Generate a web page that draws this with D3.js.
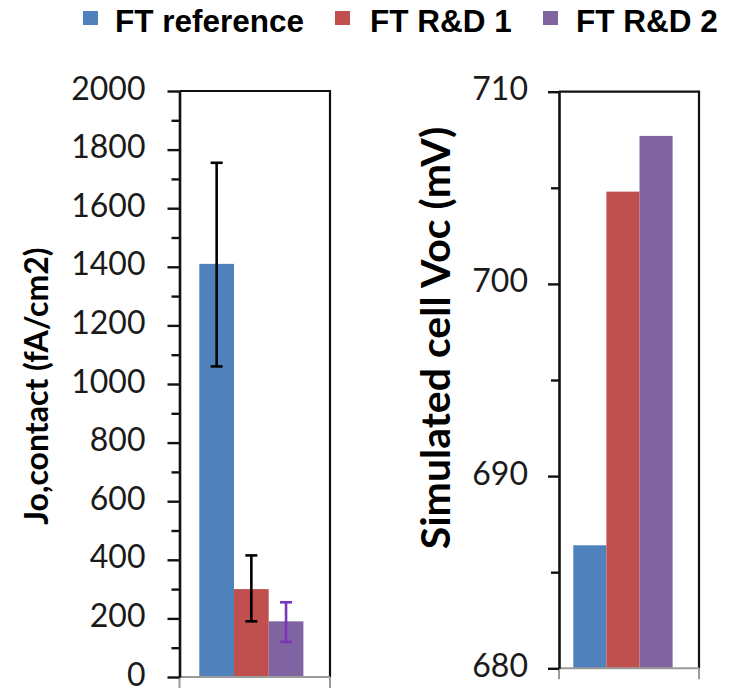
<!DOCTYPE html>
<html><head><meta charset="utf-8">
<script src="https://cdn.jsdelivr.net/npm/d3@7"></script>
<style>body{margin:0;background:#fff} svg{display:block}</style>
</head><body>
<svg id="chart" width="732" height="690"></svg>
<script>
// Series shared by both panels
const series = ["FT reference", "FT R&D 1", "FT R&D 2"];
const seriesColors = ["#4F81BD", "#C0504D", "#8064A2"];

// Left panel: contact recombination current (fA/cm2) with error bars
const joValues = [1410, 300, 190];
const joErrLow = [1060, 190, 120];
const joErrHigh = [1755, 415, 255];
const joErrColors = ["#000000", "#000000", "#7B35B8"];
const joTicks = [0, 200, 400, 600, 800, 1000, 1200, 1400, 1600, 1800, 2000];
const joMinorTicks = [100, 300, 500, 700, 900, 1100, 1300, 1500, 1700, 1900];

// Right panel: simulated cell Voc (mV)
const vocValues = [686.4, 704.8, 707.7];
const vocTicks = [680, 690, 700, 710];
const vocMinorTicks = [685, 695, 705];

const svg = d3.select("#chart");

function drawPanel(p) {
  const g = svg.append("g");
  const y = d3.scaleLinear().domain(p.domain).range([p.y1, p.y0]);
  const x = d3.scaleBand().domain(series)
    .range([p.barStart, p.barStart + p.barWidth * series.length]).padding(0);

  // bars
  g.selectAll("rect.bar").data(p.values).join("rect")
    .attr("class", "bar")
    .attr("x", (d, i) => x(series[i]))
    .attr("width", x.bandwidth())
    .attr("y", d => y(d))
    .attr("height", d => y(p.domain[0]) - y(d))
    .attr("fill", (d, i) => seriesColors[i]);

  // error bars
  if (p.errLow) {
    const eb = g.selectAll("g.err").data(p.values).join("g").attr("class", "err")
      .attr("stroke", (d, i) => p.errColors[i]).attr("stroke-width", 2.6);
    const cx = i => x(series[i]) + x.bandwidth() / 2;
    eb.append("line").attr("x1", (d, i) => cx(i)).attr("x2", (d, i) => cx(i))
      .attr("y1", (d, i) => y(p.errLow[i])).attr("y2", (d, i) => y(p.errHigh[i]));
    eb.append("line").attr("x1", (d, i) => cx(i) - 6).attr("x2", (d, i) => cx(i) + 6)
      .attr("y1", (d, i) => y(p.errLow[i])).attr("y2", (d, i) => y(p.errLow[i]));
    eb.append("line").attr("x1", (d, i) => cx(i) - 6).attr("x2", (d, i) => cx(i) + 6)
      .attr("y1", (d, i) => y(p.errHigh[i])).attr("y2", (d, i) => y(p.errHigh[i]));
  }

  // frame: top and right edges
  g.append("path")
    .attr("d", `M${p.x0},${p.y0}H${p.x1}V${p.y1}`)
    .attr("fill", "none").attr("stroke", "#111").attr("stroke-width", 2.2);

  // category axis (grey) with end ticks
  g.append("path")
    .attr("d", `M${p.x0},${p.y1}H${p.x1}M${p.x0},${p.y1}V${p.y1 + 11}M${p.x1},${p.y1}V${p.y1 + 11}`)
    .attr("fill", "none").attr("stroke", "#9a9a9a").attr("stroke-width", 2);

  // minor ticks
  const minor = g.append("g").attr("transform", `translate(${p.x0},0)`)
    .call(d3.axisLeft(y).tickValues(p.minorTicks).tickSize(8).tickFormat(""));
  minor.select(".domain").remove();
  minor.selectAll(".tick line").attr("stroke", "#111").attr("stroke-width", 2.4);

  // major ticks, labels and value axis line
  const ax = g.append("g").attr("transform", `translate(${p.x0},0)`)
    .call(d3.axisLeft(y).tickValues(p.ticks).tickSize(p.tickLen).tickSizeOuter(0)
      .tickPadding(p.tickPad).tickFormat(d3.format("d")));
  ax.select(".domain").attr("stroke", "#111").attr("stroke-width", 2.6);
  ax.selectAll(".tick line").attr("stroke", "#111").attr("stroke-width", 2.4);
  ax.selectAll(".tick text")
    .attr("dy", "0.25em")
    .attr("font-family", "Lato, 'Open Sans', sans-serif")
    .attr("font-size", 32).attr("fill", "#1a1a1a");

  // axis title
  g.append("text")
    .attr("transform", `translate(${p.titleX},${p.titleY}) rotate(-90)`)
    .attr("text-anchor", "middle")
    .attr("font-family", "Lato, 'Open Sans', sans-serif")
    .attr("font-weight", "bold").attr("font-size", p.titleSize)
    .attr("fill", "#000")
    .text(p.title);
}

drawPanel({
  x0: 179.5, x1: 330, y0: 91, y1: 677,
  domain: [0, 2000], ticks: joTicks, minorTicks: joMinorTicks,
  tickLen: 12, tickPad: 22,
  barStart: 199.3, barWidth: 34.7,
  values: joValues, errLow: joErrLow, errHigh: joErrHigh, errColors: joErrColors,
  title: "Jo,contact (fA/cm2)", titleSize: 32, titleX: 48, titleY: 386
});

drawPanel({
  x0: 559, x1: 699, y0: 91.7, y1: 668.3,
  domain: [680, 710], ticks: vocTicks, minorTicks: vocMinorTicks,
  tickLen: 11, tickPad: 20,
  barStart: 573.3, barWidth: 33.1,
  values: vocValues,
  title: "Simulated cell Voc (mV)", titleSize: 41, titleX: 450, titleY: 338
});

// legend
const legendX = [[83, 115], [335, 370], [543, 576]];
const legend = svg.append("g");
series.forEach((s, i) => {
  legend.append("rect")
    .attr("x", legendX[i][0]).attr("y", 11).attr("width", 15).attr("height", 14)
    .attr("fill", seriesColors[i]);
  legend.append("text")
    .attr("x", legendX[i][1]).attr("y", 32)
    .attr("font-family", "'Liberation Sans', Arial, sans-serif")
    .attr("font-weight", "bold").attr("font-size", 31.5).attr("fill", "#000")
    .text(s);
});
</script>
</body></html>
